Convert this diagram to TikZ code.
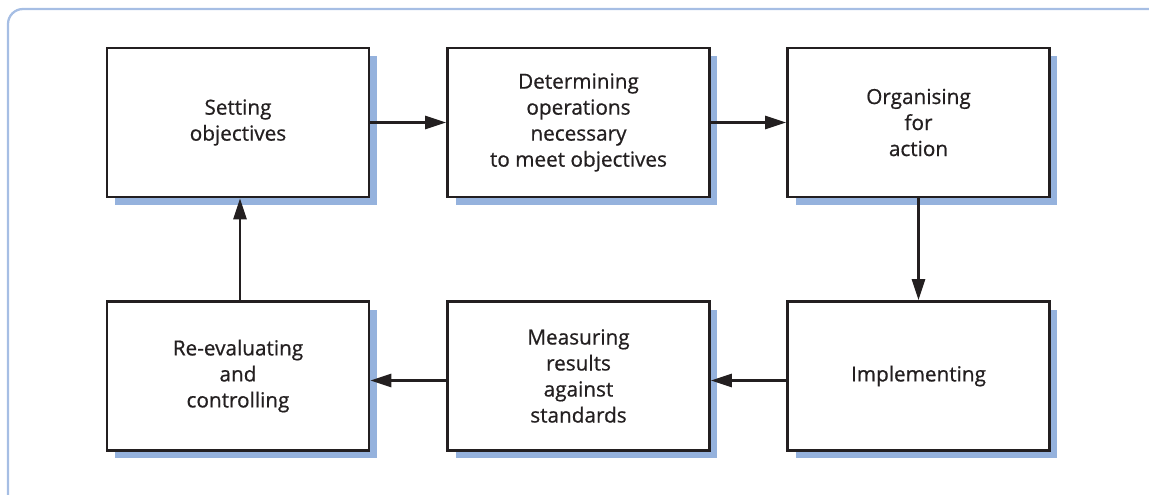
\documentclass[tikz,border=0pt]{standalone}
\usepackage{fontspec}
\setmainfont{Open Sans}
\newfontfamily\stagefont{Open Sans}[FakeBold=0.7]
\usetikzlibrary{arrows.meta, shadows}
\definecolor{framecol}{RGB}{166,190,228}
\definecolor{shadecol}{RGB}{149,178,221}
\definecolor{inkcol}{RGB}{35,31,32}

\begin{document}
\begin{tikzpicture}[x=0.02cm, y=-0.02cm,
        stage/.style={rectangle, draw=inkcol, line width=1.6pt, fill=white,
            minimum width=5.24cm, minimum height=2.98cm, inner sep=0pt,
            align=center, text=inkcol,
            font=\stagefont\fontsize{11.8}{14.8}\selectfont,
            drop shadow={shadow xshift=0.16cm, shadow yshift=-0.16cm,
                fill=shadecol, opacity=1}},
        link/.style={draw=inkcol, line width=1.4pt,
            -{Triangle[length=12pt, width=7.5pt]}}]
        \useasboundingbox (0,0) rectangle (1149,494);
        \clip (0,0) rectangle (1149,494);

        % Frame
        \draw[framecol, line width=1.3pt, rounded corners=0.3cm] (8,9) rectangle (1170,515);

        % Draw nodes
        \node[stage] (1) at (238,122.5) {Setting\\objectives};
        \node[stage] (2) at (578.5,122.5) {Determining\\operations\\necessary\\to meet objectives};
        \node[stage] (3) at (918.5,122.5) {Organising\\for\\action};
        \node[stage] (4) at (918.5,376) {Implementing};
        \node[stage] (5) at (578.5,376) {Measuring\\results\\against\\standards};
        \node[stage] (6) at (238,376) {Re-evaluating\\and\\controlling};

        % Draw connections
        \draw[link] (1) -- (2);
        \draw[link] (2) -- (3);
        \draw[link] (3) -- (4);
        \draw[link] ([yshift=-0.09cm]4.west) -- ([yshift=-0.09cm]5.east);
        \draw[link] ([yshift=-0.09cm]5.west) -- ([yshift=-0.09cm]6.east);
        \draw[link] ([xshift=0.04cm]6.north) -- ([xshift=0.04cm]1.south);
    \end{tikzpicture}
\end{document}
